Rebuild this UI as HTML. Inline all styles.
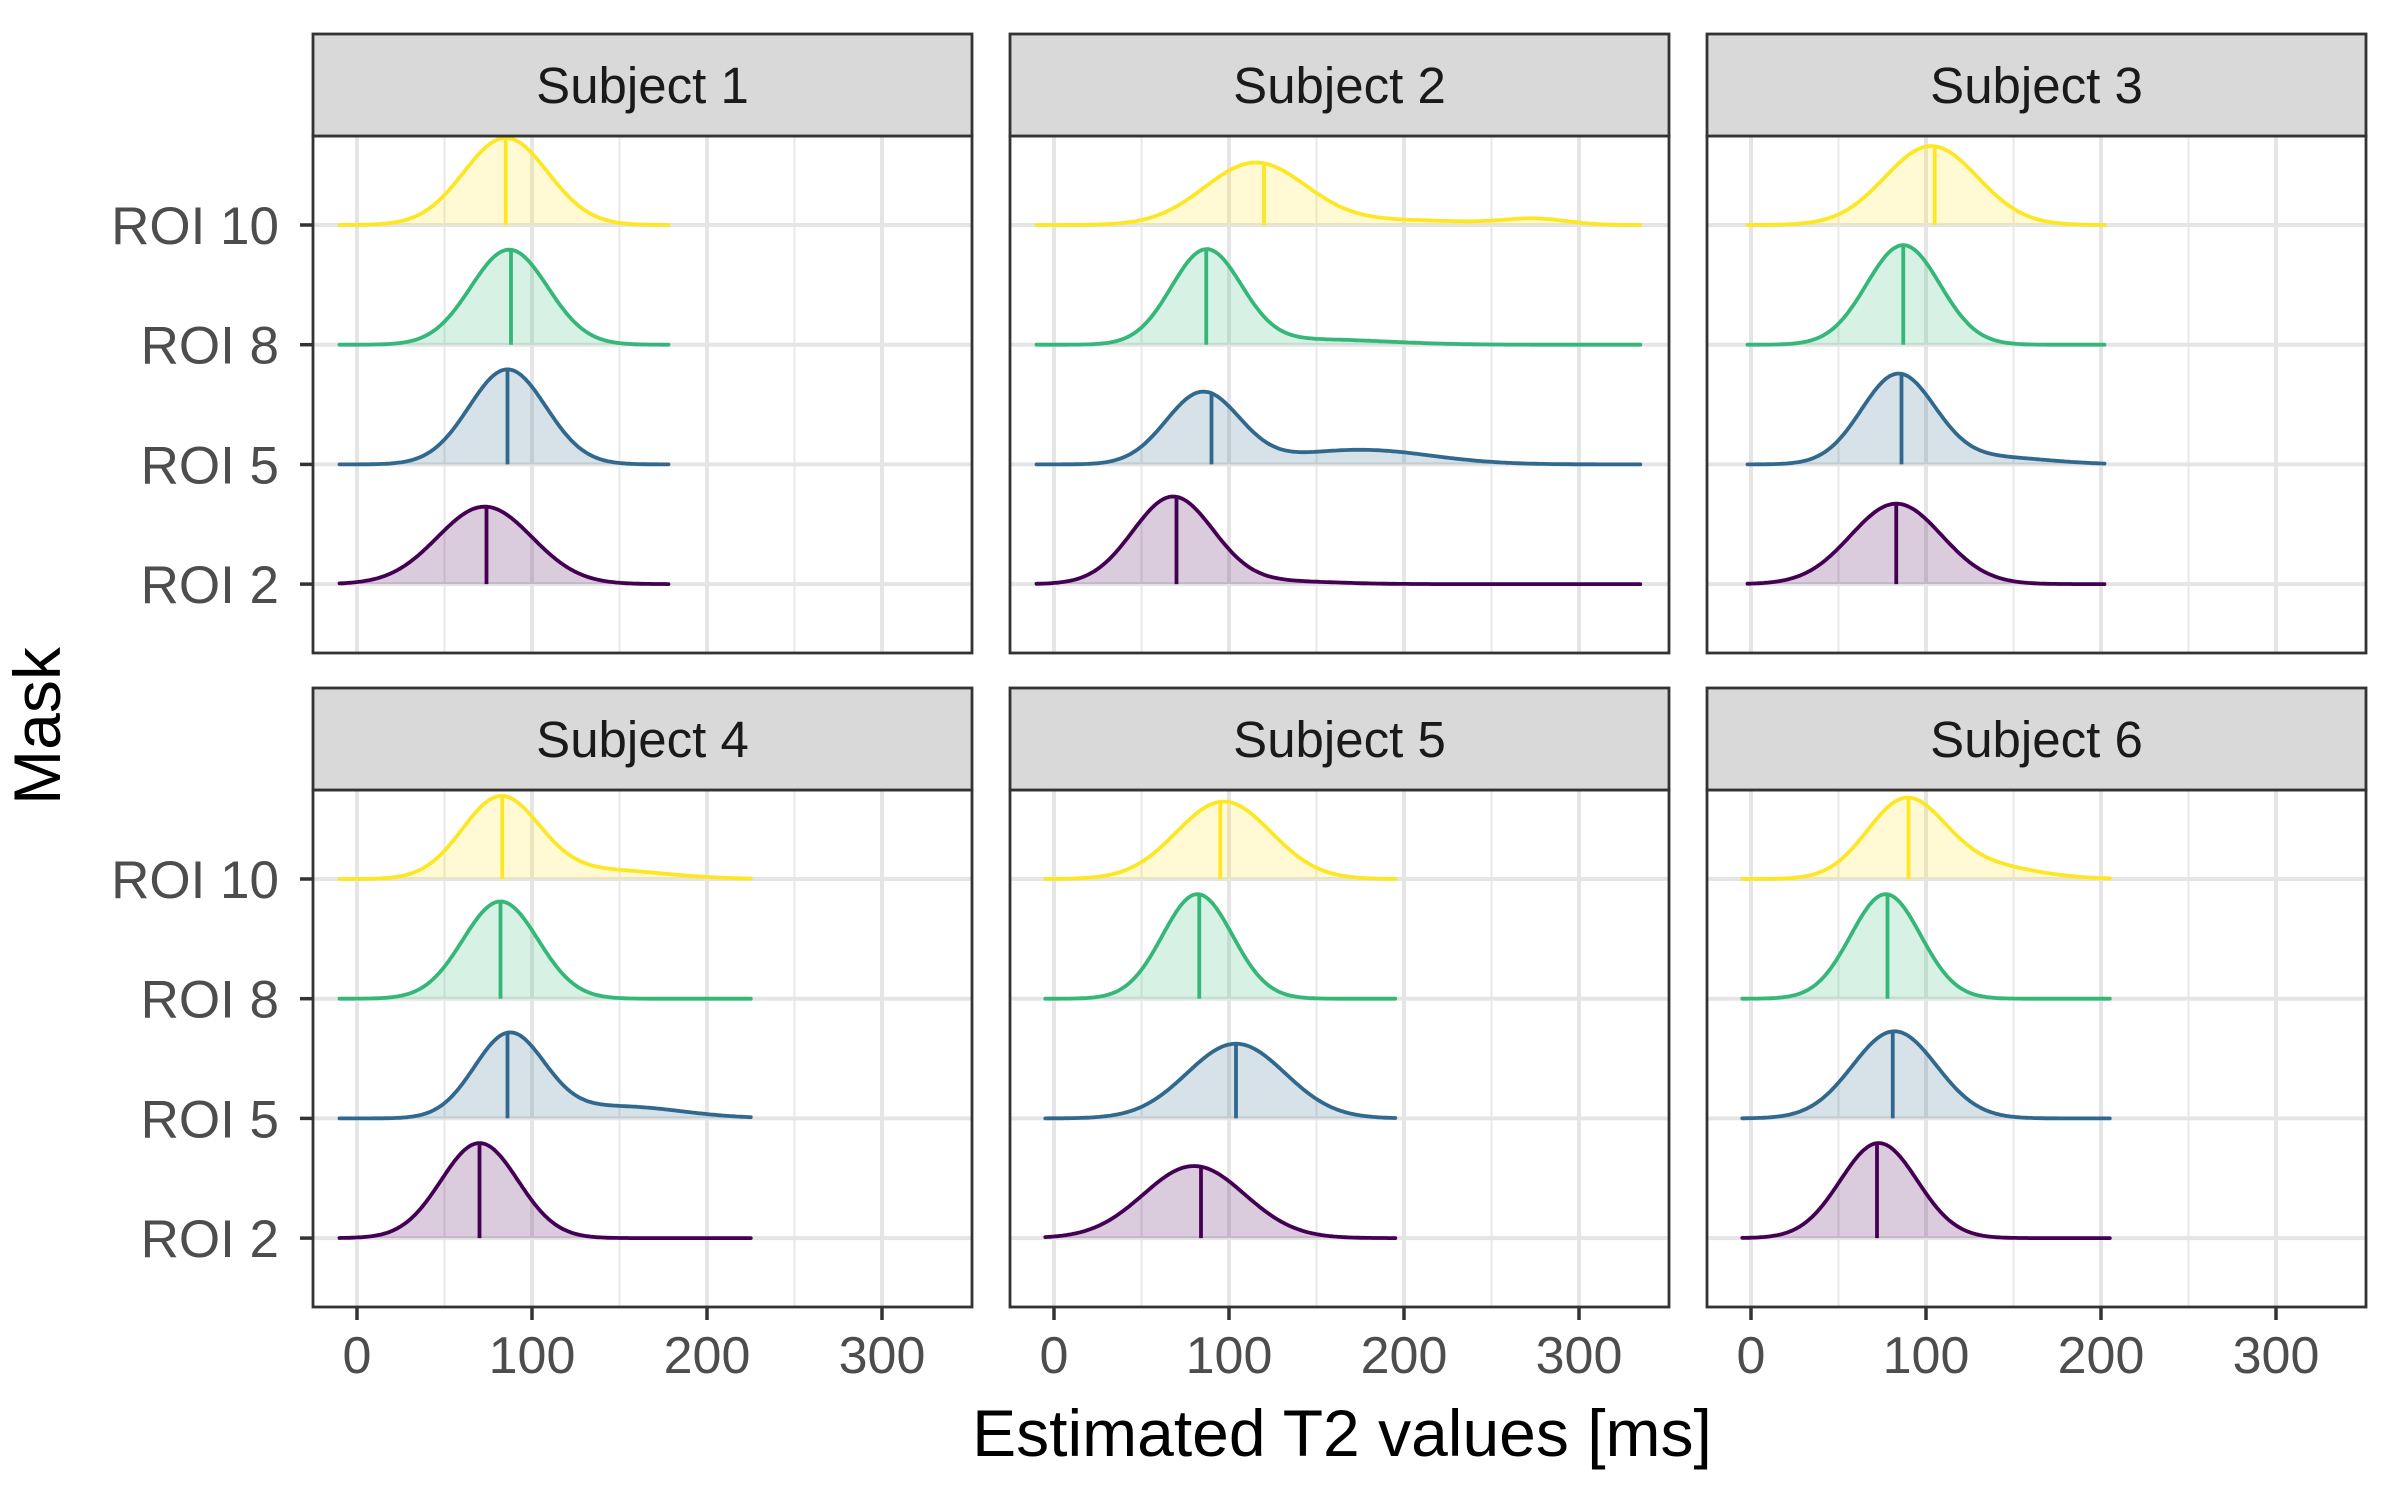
<!DOCTYPE html>
<html><head><meta charset="utf-8"><style>
html,body{margin:0;padding:0;background:#fff}
svg{display:block;font-family:"Liberation Sans",Arial,sans-serif}
</style></head><body>
<svg id="chart" width="2400" height="1500" viewBox="0 0 2400 1500"></svg>
<script>
const subjects = ["Subject 1","Subject 2","Subject 3","Subject 4","Subject 5","Subject 6"];
const rois = ["ROI 2","ROI 5","ROI 8","ROI 10"];
const roiColors = ["#440154","#31688E","#35B779","#FDE725"];
const xTicks = [0,100,200,300];
const xMinor = [50,150,250];
// data ranges (min,max) per subject
const ranges = [[-10,178],[-10,335],[-2,202],[-10,225],[-5,195],[-5,205]];
// mixture components [weight, mean, sd] per subject per ROI (ROI2, ROI5, ROI8, ROI10)
const s1 = [[[1,73,27]],[[1,86,22]],[[1,87,22]],[[1,85,24]]];
const s2 = [[[0.96,68,23],[0.04,130,30]],[[0.72,85,21],[0.28,175,40]],[[0.9,87,20],[0.1,150,40]],[[0.86,115,29],[0.09,200,40],[0.05,275,18]]];
const s3 = [[[1,83,26]],[[0.9,84,21],[0.1,140,30]],[[1,87,21]],[[1,103,26.5]]];
const s4 = [[[1,70,22]],[[0.8,87,20],[0.2,150,35]],[[1,82,21.5]],[[0.85,82,22],[0.15,140,35]]];
const s5 = [[[1,80,29]],[[1,104,28]],[[1,82,20]],[[1,97,27]]];
const s6 = [[[1,73,22]],[[1,82,24]],[[1,77,20]],[[0.8,88,22],[0.2,130,30]]];
const mixes = [s1,s2,s3,s4,s5,s6];
// median lines per subject per ROI
const m1 = [74,86,88,85];
const m2 = [70,90,87,120];
const m3 = [83,86,87,105];
const m4 = [70,86,82,83];
const m5 = [84,104,83,95];
const m6 = [72,81,78,90];
const medians = [m1,m2,m3,m4,m5,m6];

const NS="http://www.w3.org/2000/svg";
const svg=document.getElementById('chart');
function mk(tag,attrs,parent){const e=document.createElementNS(NS,tag);for(const k in attrs)e.setAttribute(k,attrs[k]);(parent||svg).appendChild(e);return e;}

const colLeft=[313,1010,1707], panelW=659;
const rowStripTop=[34,688], stripH=102, rowPanelTop=[136,790], panelH=517;
const K=5240;
function xScale(col,v){return colLeft[col]+44+v*1.75;}
function yBase(row,i){return rowPanelTop[row]+89+(3-i)*119.7;}
function dens(mix,x){let s=0;for(const c of mix){s+=c[0]*Math.exp(-0.5*((x-c[1])/c[2])**2)/(c[2]*Math.sqrt(2*Math.PI));}return s;}

const defs=mk('defs',{});
subjects.forEach((name,si)=>{
  const col=si%3,row=Math.floor(si/3);
  const L=colLeft[col],T=rowPanelTop[row];
  const g=mk('g',{});
  
  
  const cp=mk('clipPath',{id:'clip'+si},defs);
  mk('rect',{x:L,y:T,width:panelW,height:panelH},cp);
  const grid=mk('g',{},g);
  
  
  xMinor.forEach(v=>mk('line',{x1:xScale(col,v),x2:xScale(col,v),y1:T,y2:T+panelH,stroke:'#e8e8e8','stroke-width':2},grid));
  xTicks.forEach(v=>mk('line',{x1:xScale(col,v),x2:xScale(col,v),y1:T,y2:T+panelH,stroke:'#e5e5e5','stroke-width':4},grid));
  rois.forEach((r,i)=>mk('line',{x1:L,x2:L+panelW,y1:yBase(row,i),y2:yBase(row,i),stroke:'#e5e5e5','stroke-width':4},grid));
  const cg=mk('g',{'clip-path':'url(#clip'+si+')'},g);
  rois.forEach((r,i)=>{
    const mix=mixes[si][i],[a,b]=ranges[si],yb=yBase(row,i),c=roiColors[i];
    let pts=[];
    for(let k=0;k<=200;k++){const v=a+(b-a)*k/200;pts.push([xScale(col,v),yb-K*dens(mix,v)]);}
    const d='M'+pts.map(p=>p[0].toFixed(1)+','+p[1].toFixed(1)).join('L');
    const f=mk('path',{d:d+'L'+xScale(col,b)+','+yb+'L'+xScale(col,a)+','+yb+'Z',fill:c,'fill-opacity':0.2,stroke:'none'},cg);
    
    
    const l=mk('path',{d:d,fill:'none',stroke:c,'stroke-width':3.8,'stroke-linejoin':'round','stroke-linecap':'round'},cg);
    
    
    const mv=medians[si][i],mx=xScale(col,mv);
    const ml=mk('line',{x1:mx,x2:mx,y1:yb,y2:yb-K*dens(mix,mv),stroke:c,'stroke-width':3.8},cg);
    
    
  });
  const border=mk('rect',{x:L,y:T,width:panelW,height:panelH,fill:'none',stroke:'#333','stroke-width':2.8},g);
  
  
  const st=mk('rect',{x:L,y:rowStripTop[row],width:panelW,height:stripH,fill:'#d9d9d9',stroke:'#333','stroke-width':2.8},g);
  
  
  const tx=mk('text',{x:L+panelW/2,y:rowStripTop[row]+stripH/2+18,'text-anchor':'middle','font-size':51,fill:'#1a1a1a'},g);
  tx.textContent=name;
  
  
  if(col===0){
    rois.forEach((r,i)=>{
      const y=yBase(row,i);
      const tk=mk('line',{x1:L-13,x2:L,y1:y,y2:y,stroke:'#333','stroke-width':3.5},g);
      
      
      const t=mk('text',{x:L-34,y:y+19,'text-anchor':'end','font-size':53,fill:'#4d4d4d'},g);
      t.textContent=r;
      
      
    });
  }
  if(row===1){
    xTicks.forEach(v=>{
      const x=xScale(col,v);
      const tk=mk('line',{x1:x,x2:x,y1:T+panelH,y2:T+panelH+13,stroke:'#333','stroke-width':3.5},g);
      
      
      const t=mk('text',{x:x,y:T+panelH+66,'text-anchor':'middle','font-size':52,fill:'#4d4d4d'},g);
      t.textContent=v;
      
      
    });
  }
});
const xt=mk('text',{x:1342,y:1456,'text-anchor':'middle','font-size':66,fill:'#000'});
xt.textContent='Estimated T2 values [ms]';


const yt=mk('text',{x:0,y:0,'text-anchor':'middle','font-size':66,fill:'#000',transform:'translate(60,726) rotate(-90)'});
yt.textContent='Mask';


</script>
</body></html>
